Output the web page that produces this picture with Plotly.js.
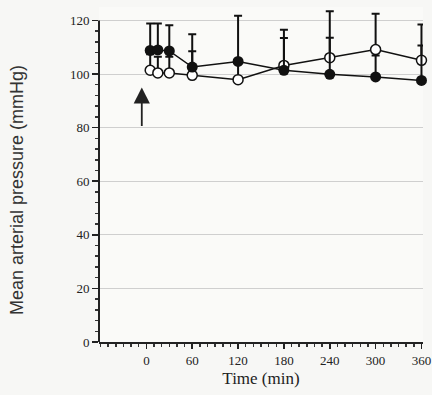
<!DOCTYPE html>
<html><head><meta charset="utf-8">
<script src="https://cdn.plot.ly/plotly-3.0.1.min.js"></script>
<style>html,body{margin:0;padding:0;background:#f7f7f5;}#chart{width:432px;height:395px;}</style>
</head><body><div id="chart"></div>
<script>
const time = [5, 15, 30, 60, 120, 180, 240, 300, 360];
const filledMean = [108.8, 109, 108.6, 102.6, 104.7, 101.4, 99.9, 98.9, 97.6];
const filledErr  = [10, 9.8, 9.6, 12.2, 17, 12, 13.6, 8, 13];
const openMean = [101.4, 100.4, 100.4, 99.5, 97.9, 103.2, 106.1, 109.1, 105.1];
const openErr  = [6, 6, 6, 9, 6, 13.3, 17.3, 13.4, 13.4];
const xTicks = [0, 60, 120, 180, 240, 300, 360];
const yTicks = [0, 20, 40, 60, 80, 100, 120];
const yMinorTicks = [];
for (let v = 0; v <= 120; v += 4) if (v % 20) yMinorTicks.push(v);
const arrowX = -6, arrowFrom = 80, arrowTo = 95;
const yTitle = 'Mean arterial pressure (mmHg)';

const traces = [
  {x: time, y: openMean, mode: 'lines+markers', name: 'open', cliponaxis: false,
   line: {color: '#111', width: 1.5},
   marker: {symbol: 'circle', size: 10, color: '#ffffff', line: {color: '#111', width: 1.5}},
   error_y: {type: 'data', symmetric: false, array: openErr, arrayminus: openMean.map(() => 0),
             color: '#111', thickness: 2, width: 4}},
  {x: time, y: filledMean, mode: 'lines+markers', name: 'filled', cliponaxis: false,
   line: {color: '#111', width: 1.5},
   marker: {symbol: 'circle', size: 11, color: '#111'},
   error_y: {type: 'data', symmetric: false, array: filledErr, arrayminus: filledMean.map(() => 0),
             color: '#111', thickness: 2, width: 4}}
];

const fam = 'Liberation Serif, Times New Roman, serif';
const sans = 'Liberation Sans, Arial, sans-serif';
const layout = {
  width: 432, height: 395,
  margin: {l: 99, r: 9, t: 7, b: 53},
  paper_bgcolor: '#f7f7f5', plot_bgcolor: '#fafaf8',
  showlegend: false,
  font: {family: fam, color: '#222'},
  xaxis: {
    range: [-62, 362], tickvals: xTicks, ticktext: xTicks.map(String),
    showgrid: false, zeroline: false, showline: true, linecolor: '#222', linewidth: 2,
    ticks: 'outside', ticklen: 5, tickwidth: 1.5, tickcolor: '#222',
    minor: {dtick: 10, tick0: 0, ticks: 'outside', ticklen: 3, tickcolor: '#333', showgrid: false},
    tickfont: {family: fam, size: 13, color: '#222'},
    title: {text: 'Time (min)', font: {family: fam, size: 17, color: '#222'}, standoff: 6}
  },
  yaxis: {
    range: [0, 125], tickvals: yTicks, ticktext: yTicks.map(String),
    showgrid: true, gridcolor: '#cfcfcf', gridwidth: 1,
    zeroline: false, showline: false,
    ticks: 'outside', ticklen: 6, tickwidth: 1.5, tickcolor: '#222',
    minor: {tickmode: 'array', tickvals: yMinorTicks, ticks: 'outside', ticklen: 3, tickcolor: '#333', showgrid: false},
    tickfont: {family: fam, size: 13, color: '#222'}
  },
  shapes: [{type: 'line', xref: 'paper', yref: 'y', x0: 0, x1: 0, y0: 0, y1: yTicks[yTicks.length - 1],
            line: {color: '#222', width: 2}}],
  annotations: [
    {x: arrowX, y: arrowTo, ax: arrowX, ay: arrowFrom, xref: 'x', yref: 'y', axref: 'x', ayref: 'y',
     showarrow: true, arrowhead: 2, arrowsize: 1.8, arrowwidth: 1.8, arrowcolor: '#222', text: ''},
    {text: yTitle, textangle: -90, showarrow: false, xref: 'paper', yref: 'paper',
     x: 0, xshift: -82, xanchor: 'center', y: 0.4537, yanchor: 'middle',
     font: {family: sans, size: 18, color: '#333'}}
  ]
};
Plotly.newPlot('chart', traces, layout, {staticPlot: true, displayModeBar: false});
</script></body></html>
